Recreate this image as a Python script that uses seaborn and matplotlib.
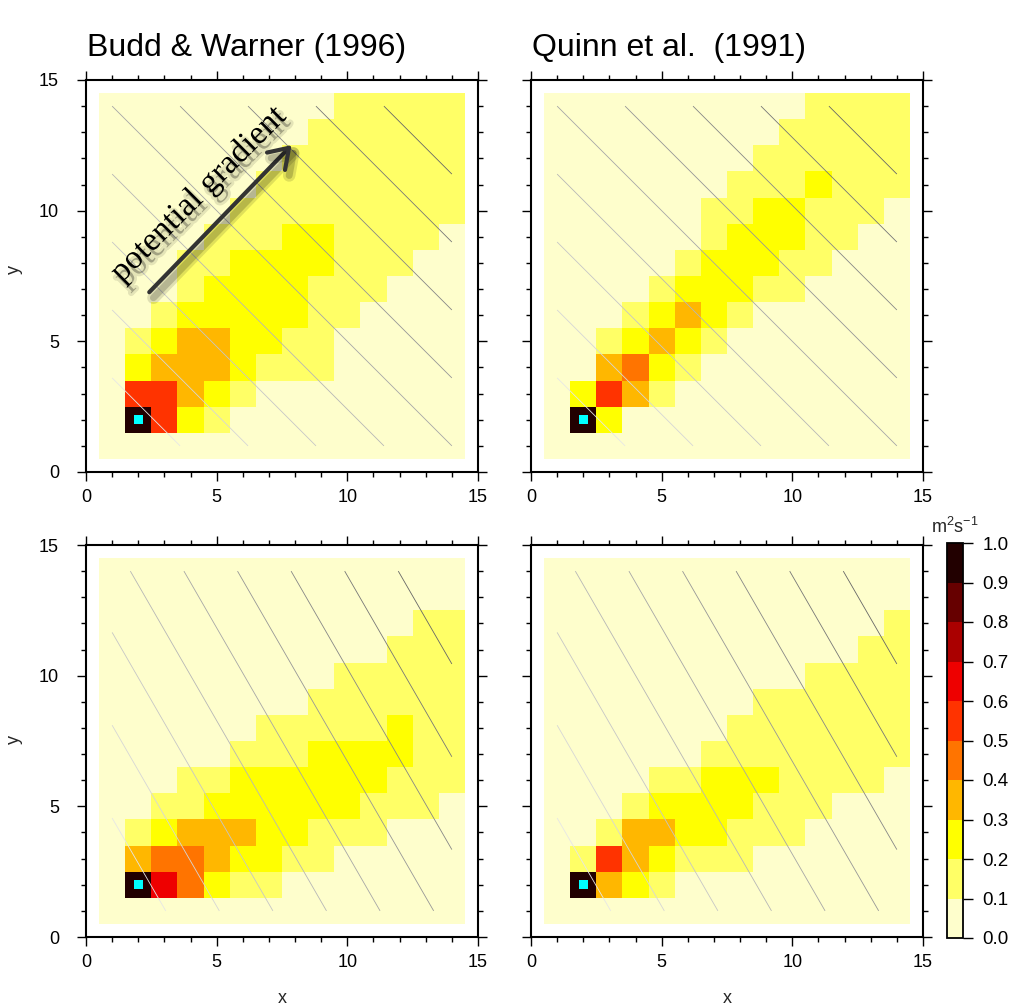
import numpy as np
import matplotlib
matplotlib.use("Agg")
import matplotlib.pyplot as plt
import seaborn as sns
import matplotlib.transforms as mtransforms
import matplotlib.patheffects as pe
from matplotlib.colors import ListedColormap, BoundaryNorm
from matplotlib.cm import ScalarMappable
from matplotlib.ticker import MultipleLocator, FormatStrFormatter

# ---------------- data ----------------
titles = ["Budd & Warner (1996)", "Quinn et al.  (1991)", "", ""]
gradient_angle_deg = [45, 45, 30, 30]     # direction of potential gradient per panel
source_x = [2]
source_y = [2]
level_bounds = [0.0, 0.1, 0.2, 0.3, 0.4, 0.5, 0.6, 0.7, 0.8, 0.9, 1.0]
level_colors = ["#fefecc", "#ffff66", "#ffff00", "#ffb700", "#ff7400",
                "#ff3300", "#ee0000", "#aa0000", "#660000", "#220000"]
cbar_label = "m$^2$s$^{-1}$"

# grids: rows from y=14 (top) down to y=1, columns x=1..14
budd_45 = [
    [.05, .05, .05, .05, .05, .05, .05, .05, .05, .15, .15, .15, .15, .15],
    [.05, .05, .05, .05, .05, .05, .05, .05, .15, .15, .15, .15, .15, .15],
    [.05, .05, .05, .05, .05, .05, .05, .15, .15, .15, .15, .15, .15, .15],
    [.05, .05, .05, .05, .05, .05, .15, .15, .15, .15, .15, .15, .15, .15],
    [.05, .05, .05, .05, .05, .15, .15, .15, .15, .15, .15, .15, .15, .15],
    [.05, .05, .05, .05, .15, .15, .15, .25, .25, .15, .15, .15, .15, .05],
    [.05, .05, .05, .15, .15, .25, .25, .25, .25, .15, .15, .15, .05, .05],
    [.05, .05, .05, .15, .25, .25, .25, .25, .15, .15, .15, .05, .05, .05],
    [.05, .05, .15, .25, .25, .25, .25, .25, .15, .15, .05, .05, .05, .05],
    [.05, .15, .25, .35, .35, .25, .25, .15, .15, .05, .05, .05, .05, .05],
    [.05, .25, .35, .35, .35, .25, .15, .15, .15, .05, .05, .05, .05, .05],
    [.05, .55, .55, .35, .25, .15, .05, .05, .05, .05, .05, .05, .05, .05],
    [.05, .95, .55, .25, .15, .05, .05, .05, .05, .05, .05, .05, .05, .05],
    [.05, .05, .05, .05, .05, .05, .05, .05, .05, .05, .05, .05, .05, .05],
]
quinn_45 = [
    [.05, .05, .05, .05, .05, .05, .05, .05, .05, .05, .15, .15, .15, .15],
    [.05, .05, .05, .05, .05, .05, .05, .05, .05, .15, .15, .15, .15, .15],
    [.05, .05, .05, .05, .05, .05, .05, .05, .15, .15, .15, .15, .15, .15],
    [.05, .05, .05, .05, .05, .05, .05, .15, .15, .15, .25, .15, .15, .15],
    [.05, .05, .05, .05, .05, .05, .15, .15, .25, .25, .15, .15, .15, .05],
    [.05, .05, .05, .05, .05, .05, .15, .25, .25, .25, .15, .15, .05, .05],
    [.05, .05, .05, .05, .05, .15, .25, .25, .25, .15, .15, .05, .05, .05],
    [.05, .05, .05, .05, .15, .25, .25, .25, .15, .15, .05, .05, .05, .05],
    [.05, .05, .05, .15, .25, .35, .25, .15, .05, .05, .05, .05, .05, .05],
    [.05, .05, .15, .25, .35, .25, .15, .05, .05, .05, .05, .05, .05, .05],
    [.05, .05, .35, .45, .25, .15, .05, .05, .05, .05, .05, .05, .05, .05],
    [.05, .25, .55, .35, .15, .05, .05, .05, .05, .05, .05, .05, .05, .05],
    [.05, .95, .25, .05, .05, .05, .05, .05, .05, .05, .05, .05, .05, .05],
    [.05, .05, .05, .05, .05, .05, .05, .05, .05, .05, .05, .05, .05, .05],
]
budd_30 = [
    [.05, .05, .05, .05, .05, .05, .05, .05, .05, .05, .05, .05, .05, .05],
    [.05, .05, .05, .05, .05, .05, .05, .05, .05, .05, .05, .05, .05, .05],
    [.05, .05, .05, .05, .05, .05, .05, .05, .05, .05, .05, .05, .15, .15],
    [.05, .05, .05, .05, .05, .05, .05, .05, .05, .05, .05, .15, .15, .15],
    [.05, .05, .05, .05, .05, .05, .05, .05, .05, .15, .15, .15, .15, .15],
    [.05, .05, .05, .05, .05, .05, .05, .05, .15, .15, .15, .15, .15, .15],
    [.05, .05, .05, .05, .05, .05, .15, .15, .15, .15, .15, .25, .15, .15],
    [.05, .05, .05, .05, .05, .15, .15, .15, .25, .25, .25, .25, .15, .15],
    [.05, .05, .05, .15, .15, .25, .25, .25, .25, .25, .25, .15, .15, .15],
    [.05, .05, .15, .15, .25, .25, .25, .25, .25, .25, .15, .15, .15, .05],
    [.05, .15, .25, .35, .35, .35, .25, .25, .15, .15, .15, .05, .05, .05],
    [.05, .35, .45, .45, .35, .25, .25, .15, .15, .05, .05, .05, .05, .05],
    [.05, .95, .65, .45, .25, .15, .15, .05, .05, .05, .05, .05, .05, .05],
    [.05, .05, .05, .05, .05, .05, .05, .05, .05, .05, .05, .05, .05, .05],
]
quinn_30 = [
    [.05, .05, .05, .05, .05, .05, .05, .05, .05, .05, .05, .05, .05, .05],
    [.05, .05, .05, .05, .05, .05, .05, .05, .05, .05, .05, .05, .05, .05],
    [.05, .05, .05, .05, .05, .05, .05, .05, .05, .05, .05, .05, .05, .15],
    [.05, .05, .05, .05, .05, .05, .05, .05, .05, .05, .05, .05, .15, .15],
    [.05, .05, .05, .05, .05, .05, .05, .05, .05, .05, .15, .15, .15, .15],
    [.05, .05, .05, .05, .05, .05, .05, .05, .15, .15, .15, .15, .15, .15],
    [.05, .05, .05, .05, .05, .05, .05, .15, .15, .15, .15, .15, .15, .15],
    [.05, .05, .05, .05, .05, .05, .15, .15, .15, .15, .15, .15, .15, .15],
    [.05, .05, .05, .05, .15, .15, .25, .25, .25, .15, .15, .15, .15, .05],
    [.05, .05, .05, .15, .25, .25, .25, .25, .15, .15, .15, .05, .05, .05],
    [.05, .05, .15, .35, .35, .25, .25, .15, .15, .15, .05, .05, .05, .05],
    [.05, .15, .55, .35, .25, .15, .15, .15, .05, .05, .05, .05, .05, .05],
    [.05, .95, .35, .25, .15, .05, .05, .05, .05, .05, .05, .05, .05, .05],
    [.05, .05, .05, .05, .05, .05, .05, .05, .05, .05, .05, .05, .05, .05],
]
panels = [budd_45, quinn_45, budd_30, quinn_30]

# ---------------- style ----------------
sns.set_theme(style="ticks")
plt.rcParams["font.family"] = ["Liberation Sans", "DejaVu Sans"]
plt.rcParams["mathtext.fontset"] = "custom"
plt.rcParams["mathtext.rm"] = "Liberation Sans"
plt.rcParams["mathtext.it"] = "Liberation Sans:italic"
plt.rcParams["axes.edgecolor"] = "black"
plt.rcParams["xtick.color"] = "black"
plt.rcParams["ytick.color"] = "black"

W, H = 1025, 1006
fig = plt.figure(figsize=(W / 100, H / 100), dpi=100)
fig.patch.set_facecolor("white")

cmap = ListedColormap(level_colors)
norm = BoundaryNorm(level_bounds, cmap.N)
TICKFS = 13


def px_rect(left, top, right, bottom):
    return [left / W, 1 - bottom / H, (right - left) / W, (bottom - top) / H]


axes_rects = [px_rect(86, 80, 478, 472), px_rect(531, 80, 923, 472),
              px_rect(86, 545, 478, 937), px_rect(531, 545, 923, 937)]

for k, (grid, rect) in enumerate(zip(panels, axes_rects)):
    ax = fig.add_axes(rect)
    data = np.flipud(np.array(grid))  # row 0 -> y = 1
    sns.heatmap(data, ax=ax, cmap=cmap, norm=norm, cbar=False,
                xticklabels=False, yticklabels=False, linewidths=0)
    mesh = ax.collections[0]
    mesh.set_transform(mtransforms.Affine2D().translate(0.5, 0.5) + ax.transData)
    ax.set_xlim(0, 15)
    ax.set_ylim(0, 15)
    ax.set_facecolor("white")

    # equipotential lines over the domain of cell centres
    gx, gy = np.meshgrid(np.linspace(1, 14, 300), np.linspace(1, 14, 300))
    a = np.deg2rad(gradient_angle_deg[k])
    phi = np.cos(a) * gx + np.sin(a) * gy
    lev = np.linspace(phi.min(), phi.max(), 11)[1:-1]
    greys = [str(g) for g in np.linspace(0.9, 0.4, len(lev))]
    ax.contour(gx, gy, phi, levels=lev, colors=greys, linewidths=0.6)

    sns.scatterplot(x=source_x, y=source_y, marker="s", s=42, color="#00ffff",
                    edgecolor="none", ax=ax, zorder=6, legend=False)

    for s in ax.spines.values():
        s.set_visible(True)
        s.set_color("black")
        s.set_linewidth(1.5)
    ax.xaxis.set_major_locator(MultipleLocator(5))
    ax.yaxis.set_major_locator(MultipleLocator(5))
    ax.xaxis.set_minor_locator(MultipleLocator(1))
    ax.yaxis.set_minor_locator(MultipleLocator(1))
    ax.xaxis.set_major_formatter(FormatStrFormatter("%d"))
    ax.yaxis.set_major_formatter(FormatStrFormatter("%d"))
    ax.tick_params(which="both", direction="out", top=True, right=True,
                   bottom=True, left=True, labeltop=False, labelright=False,
                   labelbottom=True, labelleft=(k % 2 == 0),
                   width=1.0, color="black")
    ax.tick_params(which="major", length=6.5)
    ax.tick_params(which="minor", length=3.3)
    ax.tick_params(axis="x", which="major", labelsize=TICKFS, pad=6)
    ax.tick_params(axis="y", which="major", labelsize=TICKFS, pad=13)
    ax.set_xlabel("")
    ax.set_ylabel("")

    if titles[k]:
        fig.text(rect[0] + 1 / W, 1 - 56 / H, titles[k], fontsize=23, ha="left",
                 va="baseline", color="black")

    if k == 0:
        ax.annotate("", xy=(7.87, 12.51), xytext=(2.42, 6.88),
                    arrowprops=dict(arrowstyle="->,head_length=0.45,head_width=0.3",
                                    lw=3, color="#333333", mutation_scale=30,
                                    shrinkA=0, shrinkB=0, capstyle="round",
                                    joinstyle="round",
                                    path_effects=[
                                        pe.SimpleLineShadow(offset=(3, -4), shadow_color="black",
                                                            alpha=0.12, linewidth=9),
                                        pe.SimpleLineShadow(offset=(3, -4), shadow_color="black",
                                                            alpha=0.18, linewidth=5),
                                        pe.Normal()]),
                    zorder=8)
        ax.text(4.54, 10.40, "potential gradient", rotation=45,
                rotation_mode="anchor", ha="center", va="baseline",
                fontsize=24, family=["Liberation Serif", "DejaVu Serif"],
                color="black", zorder=9,
                path_effects=[pe.Stroke(offset=(3, -4), linewidth=4,
                                        foreground="black", alpha=0.10),
                              pe.SimplePatchShadow(offset=(3, -4), shadow_rgbFace="black",
                                                   alpha=0.2),
                              pe.Normal()])

# axis labels
for yc in (270, 740):
    fig.text(14 / W, 1 - yc / H, "y", rotation=90, ha="center", va="center",
             fontsize=TICKFS)
for xc in (282, 727):
    fig.text(xc / W, 1 - 1003 / H, "x", ha="center", va="baseline",
             fontsize=TICKFS)

# colour bar
cax = fig.add_axes(px_rect(947, 543, 963, 938))
cb = fig.colorbar(ScalarMappable(norm=norm, cmap=cmap), cax=cax,
                  ticks=level_bounds, spacing="uniform")
cb.outline.set_edgecolor("black")
cb.outline.set_linewidth(1.3)
cb.ax.yaxis.set_major_formatter(FormatStrFormatter("%.1f"))
cb.ax.minorticks_off()
cb.ax.tick_params(direction="out", length=7, width=1.0, labelsize=13.5, pad=7,
                  color="black")
fig.text(955 / W, 1 - 533 / H, cbar_label, ha="center", va="baseline",
         fontsize=13)

fig.savefig("out.png", dpi=100, facecolor="white")
